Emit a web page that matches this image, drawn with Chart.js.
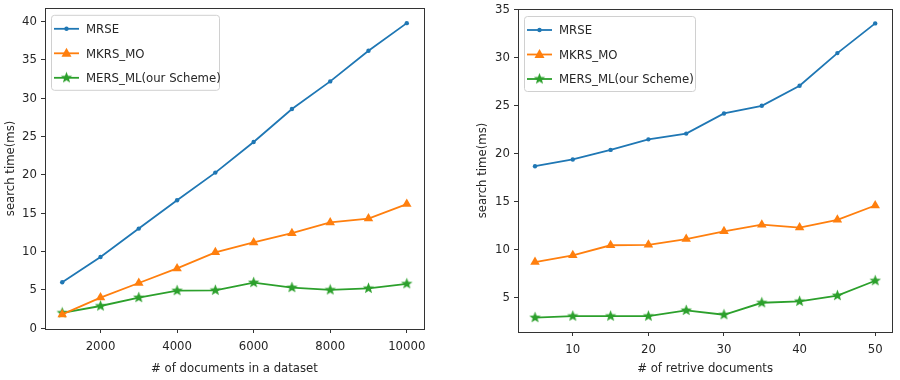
<!DOCTYPE html>
<html>
<head>
<meta charset="utf-8">
<script src="https://cdn.jsdelivr.net/npm/chart.js@4/dist/chart.umd.min.js"></script>
<style>
  body { margin: 0; background: #fff; }
  #left, #right { position: absolute; top: 0; }
  #left { left: 0; }
  #right { left: 450px; }
</style>
</head>
<body>
<canvas id="left" width="450" height="380"></canvas>
<canvas id="right" width="450" height="380"></canvas>
<script>
// left panel: search time vs number of documents
var leftDocs = [1000, 2000, 3000, 4000, 5000, 6000, 7000, 8000, 9000, 10000];
var leftMRSE = [6.0, 9.3, 13.0, 16.7, 20.3, 24.3, 28.6, 32.2, 36.2, 39.8];
var leftMKRS = [1.8, 4.0, 5.9, 7.8, 9.9, 11.2, 12.4, 13.8, 14.3, 16.2];
var leftMERS = [2.0, 2.9, 4.0, 4.9, 4.95, 5.95, 5.3, 5.0, 5.2, 5.8];
var leftXTicks = [2000, 4000, 6000, 8000, 10000];
var leftYTicks = [0, 5, 10, 15, 20, 25, 30, 35, 40];

// right panel: search time vs number of retrieved documents
var rightDocs = [5, 10, 15, 20, 25, 30, 35, 40, 45, 50];
var rightMRSE = [18.7, 19.4, 20.4, 21.5, 22.1, 24.2, 25.0, 27.1, 30.5, 33.6];
var rightMKRS = [8.7, 9.4, 10.45, 10.5, 11.1, 11.9, 12.6, 12.3, 13.1, 14.6];
var rightMERS = [2.9, 3.05, 3.05, 3.05, 3.65, 3.2, 4.45, 4.6, 5.2, 6.75];
var rightXTicks = [10, 20, 30, 40, 50];
var rightYTicks = [5, 10, 15, 20, 25, 30, 35];

var seriesNames = ['MRSE', 'MKRS_MO', 'MERS_ML(our Scheme)'];
var colors = ['#1f77b4', '#ff7f0e', '#2ca02c'];

var FONT = '"DejaVu Sans Condensed", "DejaVu Sans", sans-serif';
var FSIZE = 13;
var TEXT = '#262626';

function makeStar(color) {
    var c = document.createElement('canvas');
    c.width = 13; c.height = 13;
    var g = c.getContext('2d');
    g.fillStyle = color;
    g.beginPath();
    for (var i = 0; i < 10; i++) {
        var r = i % 2 == 0 ? 6 : 2.6;
        var a = -Math.PI / 2 + i * Math.PI / 5;
        var px = 6.5 + r * Math.cos(a), py = 6.5 + r * Math.sin(a);
        if (i == 0) g.moveTo(px, py); else g.lineTo(px, py);
    }
    g.closePath();
    g.fill();
    return c;
}
var star = makeStar(colors[2]);

function pts(xs, ys) {
    return xs.map(function (x, i) { return { x: x, y: ys[i] }; });
}

function datasets(xs, a, b, c) {
    return [
        { label: seriesNames[0], data: pts(xs, a), borderColor: colors[0], backgroundColor: colors[0],
          borderWidth: 1.8, pointStyle: 'circle', pointRadius: 2.2, pointBorderWidth: 0 },
        { label: seriesNames[1], data: pts(xs, b), borderColor: colors[1], backgroundColor: colors[1],
          borderWidth: 1.8, pointStyle: 'triangle', pointRadius: 5.5, pointBorderWidth: 0 },
        { label: seriesNames[2], data: pts(xs, c), borderColor: colors[2], backgroundColor: colors[2],
          borderWidth: 1.8, pointStyle: star, pointRadius: 6 }
    ];
}

// frame around the plot area and a matplotlib-like legend inside it
var framePlugin = {
    id: 'frame',
    afterDraw: function (chart, args, opts) {
        var ctx = chart.ctx, a = chart.chartArea;
        ctx.save();
        ctx.strokeStyle = '#333';
        ctx.lineWidth = 1;
        ctx.strokeRect(Math.round(a.left) + 0.5, Math.round(a.top) + 0.5,
                       Math.round(a.right - a.left), Math.round(a.bottom - a.top));

        var bx = a.left + opts.dx, by = a.top + opts.dy, bw = opts.w, bh = 75;
        ctx.fillStyle = 'rgba(255,255,255,0.85)';
        ctx.strokeStyle = '#d0d0d0';
        ctx.beginPath();
        ctx.roundRect(bx + 0.5, by + 0.5, bw, bh, 3);
        ctx.fill();
        ctx.stroke();

        ctx.font = FSIZE + 'px ' + FONT;
        ctx.textBaseline = 'middle';
        chart.data.datasets.forEach(function (ds, i) {
            var y = by + 14 + i * 24.5;
            var x0 = bx + 3, x1 = bx + 28, xm = (x0 + x1) / 2;
            ctx.strokeStyle = ds.borderColor;
            ctx.lineWidth = 1.8;
            ctx.beginPath(); ctx.moveTo(x0, y); ctx.lineTo(x1, y); ctx.stroke();
            ctx.fillStyle = ds.borderColor;
            if (i == 0) {
                ctx.beginPath(); ctx.arc(xm, y, 2.2, 0, Math.PI * 2); ctx.fill();
            } else if (i == 1) {
                ctx.beginPath(); ctx.moveTo(xm, y - 5.5); ctx.lineTo(xm + 5, y + 3.5); ctx.lineTo(xm - 5, y + 3.5);
                ctx.closePath(); ctx.fill();
            } else {
                ctx.drawImage(star, xm - 6.5, y - 6.5);
            }
            ctx.fillStyle = TEXT;
            ctx.fillText(ds.label, bx + 35, y + 1);
        });
        ctx.restore();
    }
};

function makeChart(id, cfg) {
    return new Chart(document.getElementById(id), {
        type: 'line',
        data: { datasets: datasets(cfg.xs, cfg.a, cfg.b, cfg.c) },
        options: {
            responsive: false,
            animation: false,
            layout: { padding: cfg.pad },
            plugins: { legend: { display: false }, tooltip: { enabled: false },
                       frame: cfg.legend },
            scales: {
                x: {
                    type: 'linear', min: cfg.xmin, max: cfg.xmax,
                    afterBuildTicks: function (s) { s.ticks = cfg.xt.map(function (v) { return { value: v }; }); },
                    afterFit: function (s) { s.height = cfg.xh; s.paddingLeft = 0; s.paddingRight = 0; },
                    grid: { drawOnChartArea: false, drawTicks: true, tickLength: 4, color: '#333' },
                    border: { display: false },
                    ticks: { color: TEXT, font: { family: FONT, size: FSIZE }, padding: 6, maxRotation: 0,
                             callback: function (v) { return String(v); } },
                    title: { display: true, text: cfg.xtitle, color: TEXT, font: { family: FONT, size: FSIZE },
                             padding: { top: 2, bottom: 4 } }
                },
                y: {
                    min: cfg.ymin, max: cfg.ymax,
                    afterBuildTicks: function (s) { s.ticks = cfg.yt.map(function (v) { return { value: v }; }); },
                    afterFit: function (s) { s.width = cfg.yw; s.paddingTop = 0; s.paddingBottom = 0; },
                    grid: { drawOnChartArea: false, drawTicks: true, tickLength: 4, color: '#333' },
                    border: { display: false },
                    ticks: { color: TEXT, font: { family: FONT, size: FSIZE }, padding: 4,
                             callback: function (v) { return String(v); } },
                    title: { display: true, text: 'search time(ms)', color: TEXT, font: { family: FONT, size: FSIZE },
                             padding: { top: 0, bottom: 2 } }
                }
            }
        },
        plugins: [framePlugin]
    });
}

makeChart('left', {
    xs: leftDocs, a: leftMRSE, b: leftMKRS, c: leftMERS,
    xmin: 550, xmax: 10450, ymin: -0.1, ymax: 41.8,
    xt: leftXTicks, yt: leftYTicks,
    xtitle: '# of documents in a dataset',
    pad: { left: 3, top: 5, right: 26, bottom: 0 },
    yw: 42, xh: 51,
    legend: { dx: 6, dy: 7, w: 168 }
});

makeChart('right', {
    xs: rightDocs, a: rightMRSE, b: rightMKRS, c: rightMERS,
    xmin: 2.75, xmax: 52.25, ymin: 1.4, ymax: 35.1,
    xt: rightXTicks, yt: rightYTicks,
    xtitle: '# of retrive documents',
    pad: { left: 25, top: 9, right: 1, bottom: 0 },
    yw: 43, xh: 48,
    legend: { dx: 6, dy: 7, w: 171 }
});
</script>
</body>
</html>
